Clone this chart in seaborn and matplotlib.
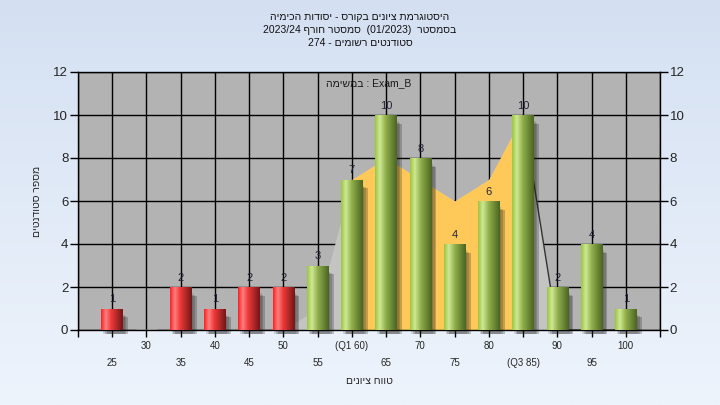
import numpy as np
import pandas as pd
import matplotlib
matplotlib.use("Agg")
import matplotlib.pyplot as plt
from matplotlib.colors import LinearSegmentedColormap
import seaborn as sns

# grade ranges and number of students in each
grade_bins = ["25", "30", "35", "40", "45", "50", "55", "60", "65", "70",
              "75", "80", "85", "90", "95", "100"]
student_counts = [1, 0, 2, 1, 2, 2, 3, 7, 10, 8, 4, 6, 10, 2, 4, 1]
tick_labels = ["25", "30", "35", "40", "45", "50", "55", "(Q1 60)", "65", "70",
               "75", "80", "(Q3 85)", "90", "95", "100"]
# background area series (light grey outside Q1..Q3, orange inside)
area_values = [0, 0, 0, 0, 0, 0, 1, 7, 8, 7, 6, 7, 10, 0, 0, 0]
q1_idx, q3_idx = 7, 12
fail_limit = 55


def rev(s):
    # matplotlib has no bidi support, so hebrew runs are written in visual order
    return s[::-1]


title_lines = [
    rev("היסטוגרמת ציונים בקורס - יסודות הכימיה"),
    "2023/24 " + rev("סמסטר חורף") + "  (01/2023)  " + rev("בסמסטר"),
    "274 - " + rev("סטודנטים רשומים"),
]
task_text = rev("במשימה") + " : Exam_B"
x_title = rev("טווח ציונים")
y_title = rev("מספר סטודנטים")

sns.set_style("white")
plt.rcParams["font.family"] = ["Liberation Sans", "DejaVu Sans"]

df = pd.DataFrame({"range": grade_bins, "count": student_counts})

fig = plt.figure(figsize=(7.2, 4.05), dpi=100)

# light blue gradient background
bg = fig.add_axes([0, 0, 1, 1], zorder=-10)
bg_cmap = LinearSegmentedColormap.from_list("bg", ["#d4e0f2", "#eef4fc"])
bg.imshow(np.linspace(0, 1, 256).reshape(-1, 1), aspect="auto", cmap=bg_cmap,
          extent=[0, 1, 0, 1])
bg.axis("off")

ax = fig.add_axes([78 / 720, 75 / 405, 582 / 720, 258 / 405])
ax.set_facecolor("#b3b3b3")

bar_colors = ["#e02020" if int(b) < fail_limit else "#9cc044" for b in grade_bins]
sns.barplot(data=df, x="range", y="count", hue="range", palette=bar_colors,
            legend=False, width=0.63, ax=ax, zorder=3, saturation=1)

# area behind the bars
xs = np.arange(len(grade_bins))
ax.fill_between(xs, area_values, color="#c4c4c4", lw=0, zorder=1.5)
ax.fill_between(xs[q1_idx:q3_idx + 1], area_values[q1_idx:q3_idx + 1],
                color="#fec958", lw=0, zorder=1.6)
ax.plot(xs[q3_idx:], area_values[q3_idx:], color="#333333", lw=1, zorder=1.7)

red_cmap = LinearSegmentedColormap.from_list(
    "red", [(0, "#ff2020"), (0.22, "#ff8080"), (0.45, "#f03a3a"), (1, "#741616")])
green_cmap = LinearSegmentedColormap.from_list(
    "green", [(0, "#9cc640"), (0.22, "#cfe894"), (0.5, "#8fae4a"), (1, "#4a6522")])
grad = np.linspace(0, 1, 64).reshape(1, -1)

for patch, b, v in zip(ax.patches, grade_bins, student_counts):
    x0, w, h = patch.get_x(), patch.get_width(), patch.get_height()
    if h <= 0:
        continue
    # soft drop shadow on the right
    for k, a in enumerate([0.15, 0.2, 0.25]):
        ax.add_patch(plt.Rectangle((x0 + 0.05 + 0.05 * k, -0.2), w,
                                   h - 0.1 - 0.05 * k,
                                   color="#202020", alpha=a, lw=0, zorder=2.5,
                                   clip_on=False))
    cmap = red_cmap if int(b) < fail_limit else green_cmap
    im = ax.imshow(grad, cmap=cmap, aspect="auto", extent=[x0, x0 + w, 0, h],
                   zorder=3.1)
    im.set_clip_path(patch)
    patch.set_facecolor("none")
    patch.set_edgecolor("none")
    ax.annotate(str(v), (x0 + w / 2, h), xytext=(0, 3), textcoords="offset points",
                ha="center", va="bottom", fontsize=8, color="#22223a", zorder=5)

ax.set_xlim(-1, 16)
ax.set_ylim(0, 12)
ax.set_yticks(range(0, 13, 2))

odd_pos = [-1] + list(range(1, 16, 2)) + [16]
ax.set_xticks(odd_pos)
ax.set_xticklabels([""] + [tick_labels[i] for i in range(1, 16, 2)] + [""])
ax.set_xticks(range(0, 16, 2), minor=True)
ax.set_xticklabels([tick_labels[i] for i in range(0, 16, 2)], minor=True)

ax.tick_params(axis="x", which="both", direction="out", length=5, width=1,
               color="black", labelsize=7, bottom=True)
ax.tick_params(axis="x", which="major", pad=3)
ax.tick_params(axis="x", which="minor", pad=15)
ax.tick_params(axis="y", direction="out", length=6, width=1, color="black",
               labelsize=9.5, left=True, right=True, labelright=True, pad=1)

ax.grid(True, which="both", color="black", lw=1)
ax.set_axisbelow(True)
for s in ax.spines.values():
    s.set_color("black")
    s.set_linewidth(1)

ax.set_xlabel(x_title, fontsize=7.5, labelpad=6)
ax.set_ylabel(y_title, fontsize=7.5, labelpad=8)

ax.text(0.5, 0.955, task_text, transform=ax.transAxes, ha="center", va="center",
        fontsize=7.5, color="#1a1a1a", zorder=6)

for i, line in enumerate(title_lines):
    fig.text(0.5, 1 - (17 + 13 * i) / 405, line, ha="center", va="center",
             fontsize=7.5, color="#111111")

fig.savefig("out.png", dpi=100)
